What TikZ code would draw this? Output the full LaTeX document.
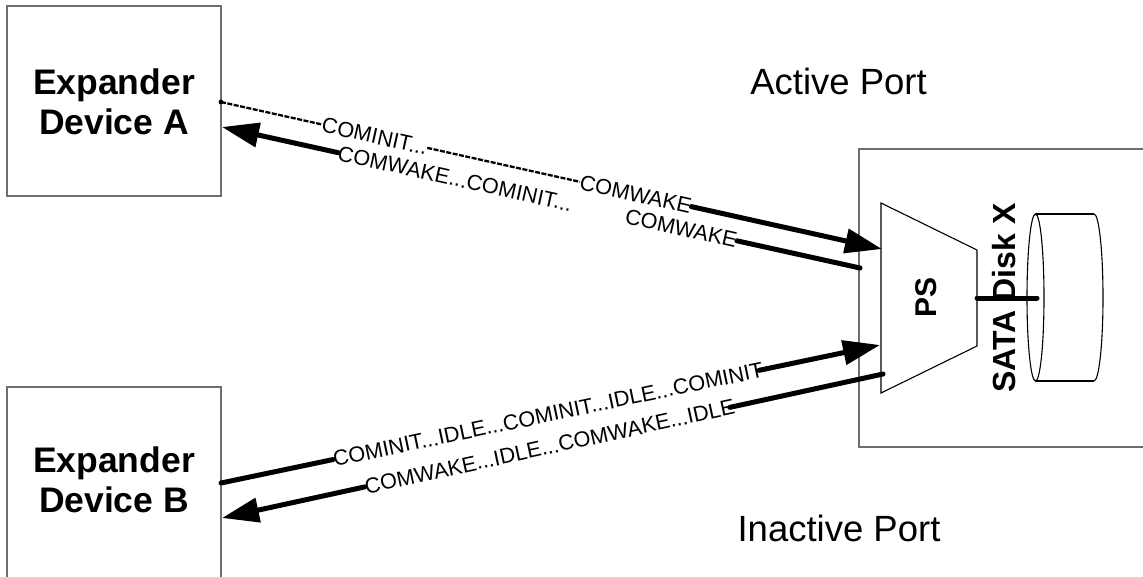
\documentclass[tikz,border=0pt]{standalone}
\usepackage{fontspec}
\setmainfont{Liberation Sans}
\usetikzlibrary{arrows.meta,calc}
\definecolor{boxgray}{RGB}{110,110,110}
\begin{document}
\begin{tikzpicture}[x=1pt,y=-1pt,
  devbox/.style={draw=boxgray, line width=1.5pt, inner sep=0pt},
  devtext/.style={font=\fontsize{35.5}{40}\selectfont\bfseries, align=center, inner sep=0pt},
  porttext/.style={font=\fontsize{36.5}{40}\selectfont, inner sep=0pt},
  lbl/.style={font=\fontsize{21.7}{24}\selectfont, inner sep=0pt, sloped},
  thickline/.style={line width=5pt, line cap=round},
  arr/.style={thickline, -{Triangle[length=37pt,width=24pt]}},
  dashline/.style={line width=2.3pt, dash pattern=on 5pt off 1.5pt},
  shapeline/.style={draw=black, line width=1.1pt},
]
\clip (0,0) rectangle (1143,576);
\fill[white] (0,0) rectangle (1143,576);

% device boxes
\node[devbox, minimum width=214pt, minimum height=190pt] (boxA) at (114,101) {};
\node[devtext] (labA) at (114,102) {Expander\\Device A};
\node[devbox, minimum width=214pt, minimum height=213pt] (boxB) at (114,493.5) {};
\node[devtext] (labB) at (114,480) {Expander\\Device B};

% port box
\node[devbox, minimum width=300pt, minimum height=298pt] (port) at (1009,298) {};
\node[porttext] (act) at (838.5,81.7) {Active Port};
\node[porttext] (inact) at (839,528.7) {Inactive Port};

% port selector trapezoid
\coordinate (tr1) at (881,203);
\coordinate (tr2) at (977,250);
\coordinate (tr3) at (977,346);
\coordinate (tr4) at (881,393);
\draw[shapeline] (tr1) -- (tr2) -- (tr3) -- (tr4) -- cycle;
\node[rotate=90, font=\fontsize{30}{32}\selectfont\bfseries, inner sep=0pt] (ps) at (926.5,297.5) {PS};

% disk
\node[rotate=90, font=\fontsize{32}{34}\selectfont\bfseries, inner sep=0pt] (sata) at (1004.5,298) {SATA Disk X};
\draw[shapeline] (1036,214) -- (1094,214);
\draw[shapeline] (1036,381) -- (1094,381);
\draw[shapeline] (1094,214) arc[start angle=90, end angle=-90, x radius=9pt, y radius=83.5pt];
\draw[shapeline] (1035.5,297.5) ellipse [x radius=8.5pt, y radius=83.5pt];
\coordinate (psr) at (977,298);
\coordinate (disk) at (1037,298);
\draw[thickline] (psr) -- (disk);

% connector end points
\coordinate (t1s) at (221,102);
\coordinate (t1e) at (882,249);
\coordinate (t2a) at (222,127);
\coordinate (t2b) at (860,268);
\coordinate (b1s) at (221,483);
\coordinate (b1e) at (880,345);
\coordinate (b2a) at (222,518);
\coordinate (b2b) at (883,374);

% top link: A -> PS
\fill (t1s) circle (2.4pt);
\path (t1s) -- (t1e)
  node[lbl, pos=0.153, anchor=west] (l1) {COMINIT...}
  node[lbl, pos=0.543, anchor=west] (l2) {COMWAKE};
\draw[dashline] (t1s) -- (l1.west);
\draw[dashline] (l1.east) -- (l2.west);
\draw[arr] (l2.east) -- (t1e);

% top link: PS -> A
\path (t2a) -- (t2b)
  node[lbl, pos=0.182, anchor=west] (l3) {COMWAKE...COMINIT...}
  node[lbl, pos=0.807, anchor=east] (l4) {COMWAKE};
\draw[arr] (l3.west) -- (t2a);
\draw[thickline] (l4.east) -- (t2b);

% bottom link: B -> PS
\path (b1s) -- (b1e)
  node[lbl, pos=0.170, anchor=west] (l5) {COMINIT...IDLE...COMINIT...IDLE...COMINIT};
\draw[thickline] (b1s) -- (l5.west);
\draw[arr] ($(l5.east)!-4pt!(b1e)$) -- (b1e);

% bottom link: PS -> B
\path (b2a) -- (b2b)
  node[lbl, pos=0.216, anchor=west] (l6) {COMWAKE...IDLE...COMWAKE...IDLE};
\draw[arr] (l6.west) -- (b2a);
\draw[thickline] ($(l6.east)!-5pt!(b2b)$) -- (b2b);
\end{tikzpicture}
\end{document}
